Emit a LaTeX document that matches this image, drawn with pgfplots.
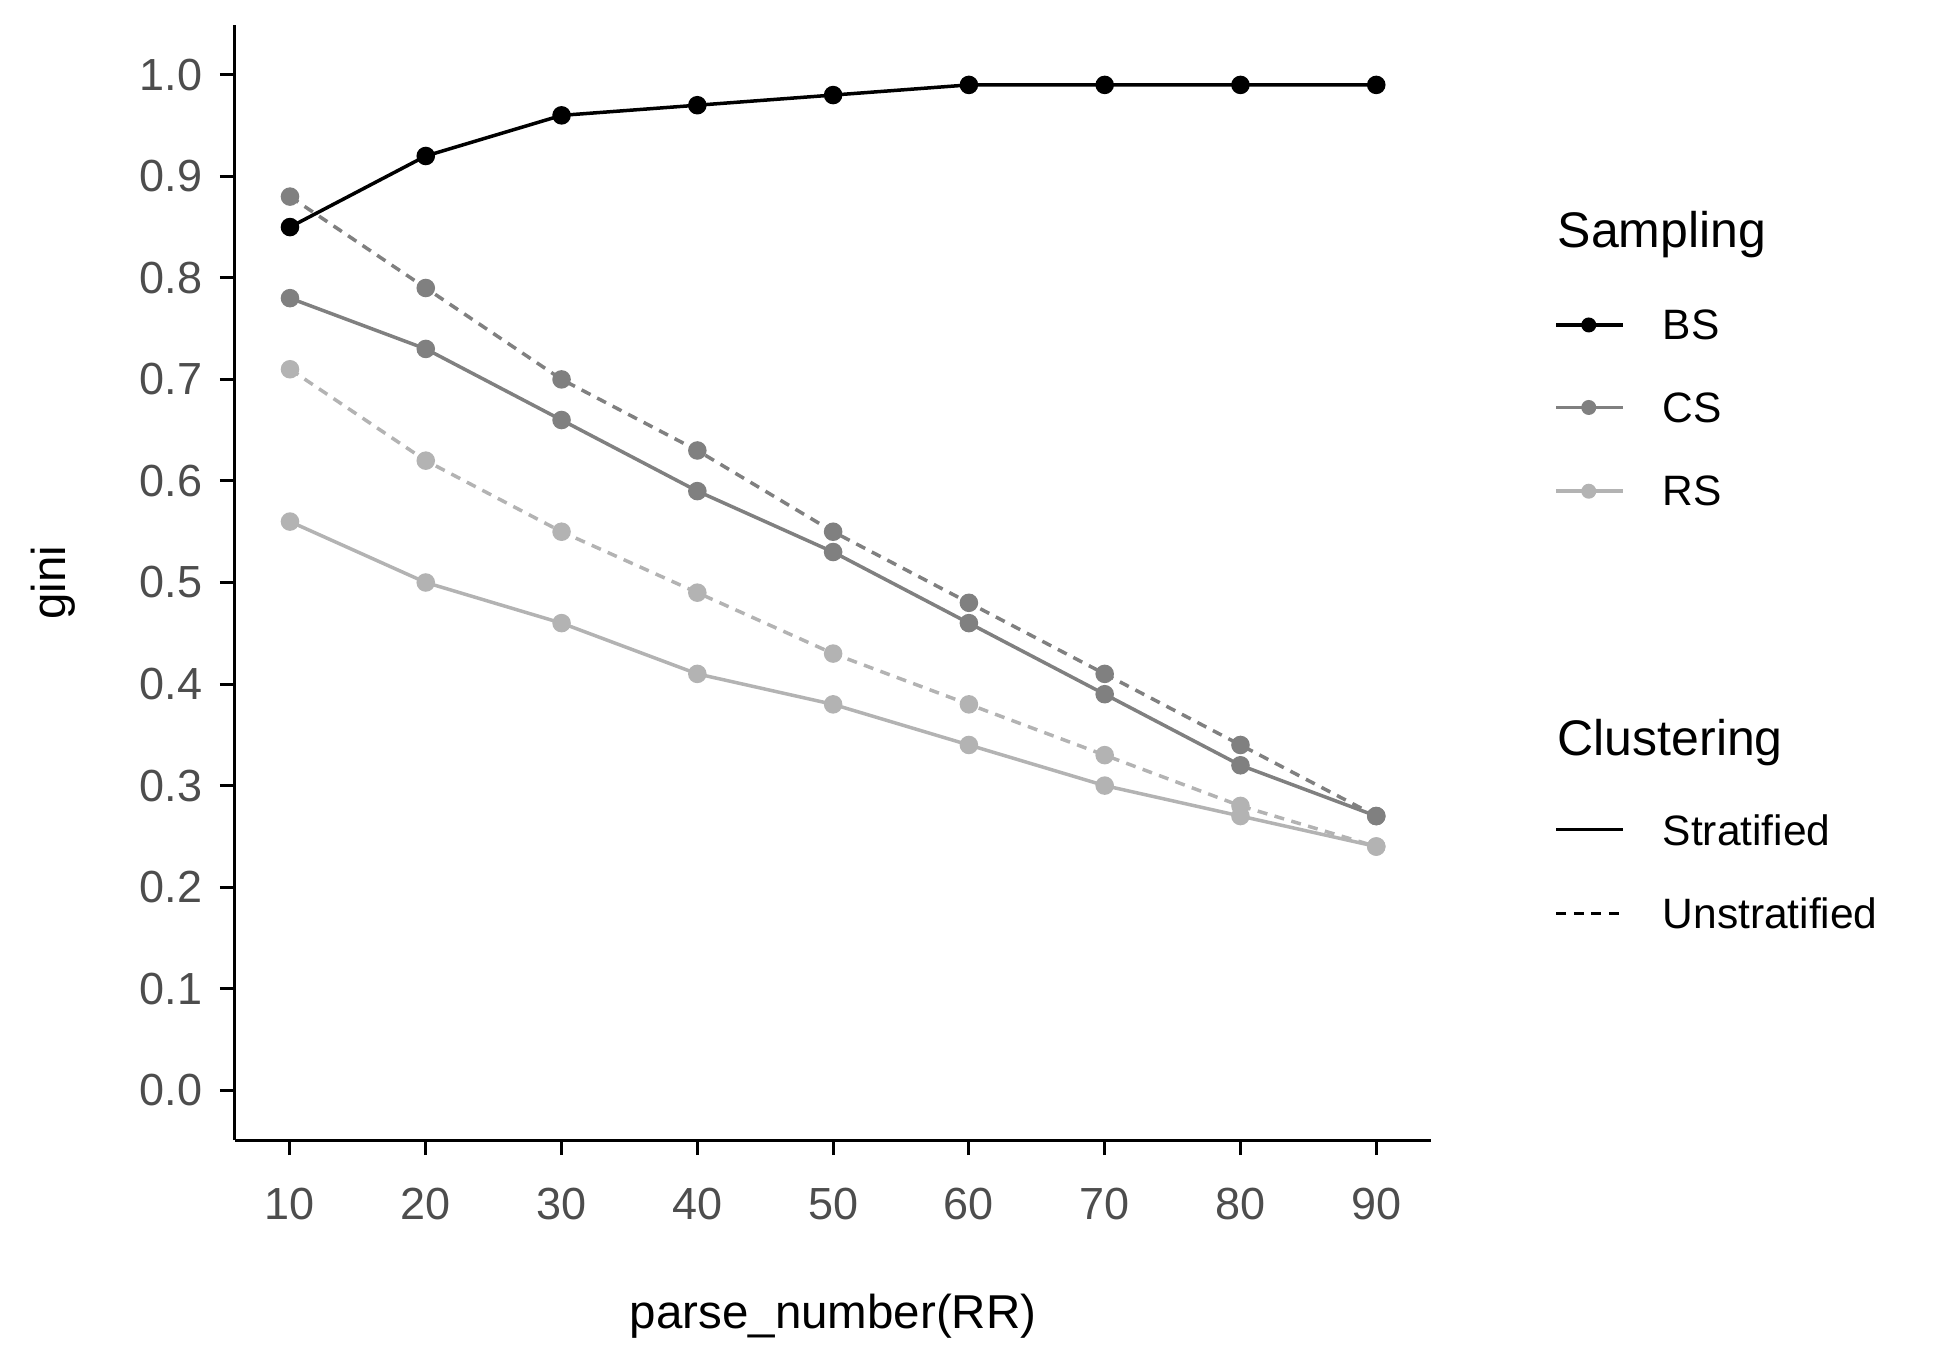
\documentclass[border=0pt]{standalone}
\usepackage{pgfplots}
\pgfplotsset{compat=1.18}
\usepackage{fontspec}
\setmainfont{Liberation Sans}
\definecolor{cs}{HTML}{808080}
\definecolor{rs}{HTML}{B3B3B3}
\definecolor{tk}{HTML}{4D4D4D}
\newcommand{\px}[2]{({(#1-188)*0.25pt},{(912-#2)*0.25pt})}
\begin{document}
\begin{tikzpicture}[x=1pt,y=1pt]
\useasboundingbox (-47,-42) rectangle (343,228);
\begin{axis}[at={(0,0)},anchor=south west,scale only axis,width=239.25pt,height=223pt,
 xmin=5.95,xmax=94.05,ymin=-0.049,ymax=1.049,
 axis lines=left, axis line style={-,line width=0.6pt},
 xtick={10,20,...,90}, ytick={0,0.1,...,1.0},
 yticklabel style={/pgf/number format/.cd,fixed,fixed zerofill,precision=1},
 /pgf/number format/assume math mode=true,
 tick align=outside, major tick length=3pt, tick style={black,line width=0.6pt},
 ticklabel style={font=\fontsize{9}{10}\selectfont,text=tk},
 xticklabel style={yshift=-3pt},
 xlabel={parse\_number(RR)}, ylabel={gini},
 label style={font=\fontsize{9.5}{11}\selectfont},
 xlabel style={yshift=-8pt}, ylabel style={yshift=6pt},
 every axis plot/.append style={line width=0.7pt,mark=*,mark size=1.5pt},
 clip=false]
\addplot[black,mark options={solid}] coordinates {(10,0.85)(20,0.92)(30,0.96)(40,0.97)(50,0.98)(60,0.99)(70,0.99)(80,0.99)(90,0.99)};
\addplot[cs,mark options={solid}] coordinates {(10,0.78)(20,0.73)(30,0.66)(40,0.59)(50,0.53)(60,0.46)(70,0.39)(80,0.32)(90,0.27)};
\addplot[cs,dash pattern=on 2pt off 1.5pt,mark options={solid}] coordinates {(10,0.88)(20,0.79)(30,0.70)(40,0.63)(50,0.55)(60,0.48)(70,0.41)(80,0.34)(90,0.27)};
\addplot[rs,mark options={solid}] coordinates {(10,0.56)(20,0.50)(30,0.46)(40,0.41)(50,0.38)(60,0.34)(70,0.30)(80,0.27)(90,0.24)};
\addplot[rs,dash pattern=on 2pt off 1.5pt,mark options={solid}] coordinates {(10,0.71)(20,0.62)(30,0.55)(40,0.49)(50,0.43)(60,0.38)(70,0.33)(80,0.28)(90,0.24)};
\end{axis}
\begin{scope}[font=\fontsize{8.5}{10}\selectfont]
\node[anchor=west,font=\fontsize{10}{11}\selectfont] at \px{1232}{188} {Sampling};
\node[anchor=west,font=\fontsize{10}{11}\selectfont] at \px{1232}{594} {Clustering};
\draw[black,line width=0.7pt] \px{1245}{260} -- \px{1298}{260}; \fill[black] \px{1271}{260} circle (1.5pt);
\draw[cs,line width=0.7pt] \px{1245}{326} -- \px{1298}{326}; \fill[cs] \px{1271}{326} circle (1.5pt);
\draw[rs,line width=0.7pt] \px{1245}{393} -- \px{1298}{393}; \fill[rs] \px{1271}{393} circle (1.5pt);
\node[anchor=west] at \px{1316}{260} {BS};
\node[anchor=west] at \px{1316}{326} {CS};
\node[anchor=west] at \px{1316}{393} {RS};
\draw[black,line width=0.6pt] \px{1245}{664} -- \px{1298}{664};
\draw[black,line width=0.6pt,dash pattern=on 2pt off 1.5pt] \px{1245}{731} -- \px{1298}{731};
\node[anchor=west] at \px{1316}{664} {Stratified};
\node[anchor=west] at \px{1316}{731} {Unstratified};
\end{scope}
\end{tikzpicture}
\end{document}
